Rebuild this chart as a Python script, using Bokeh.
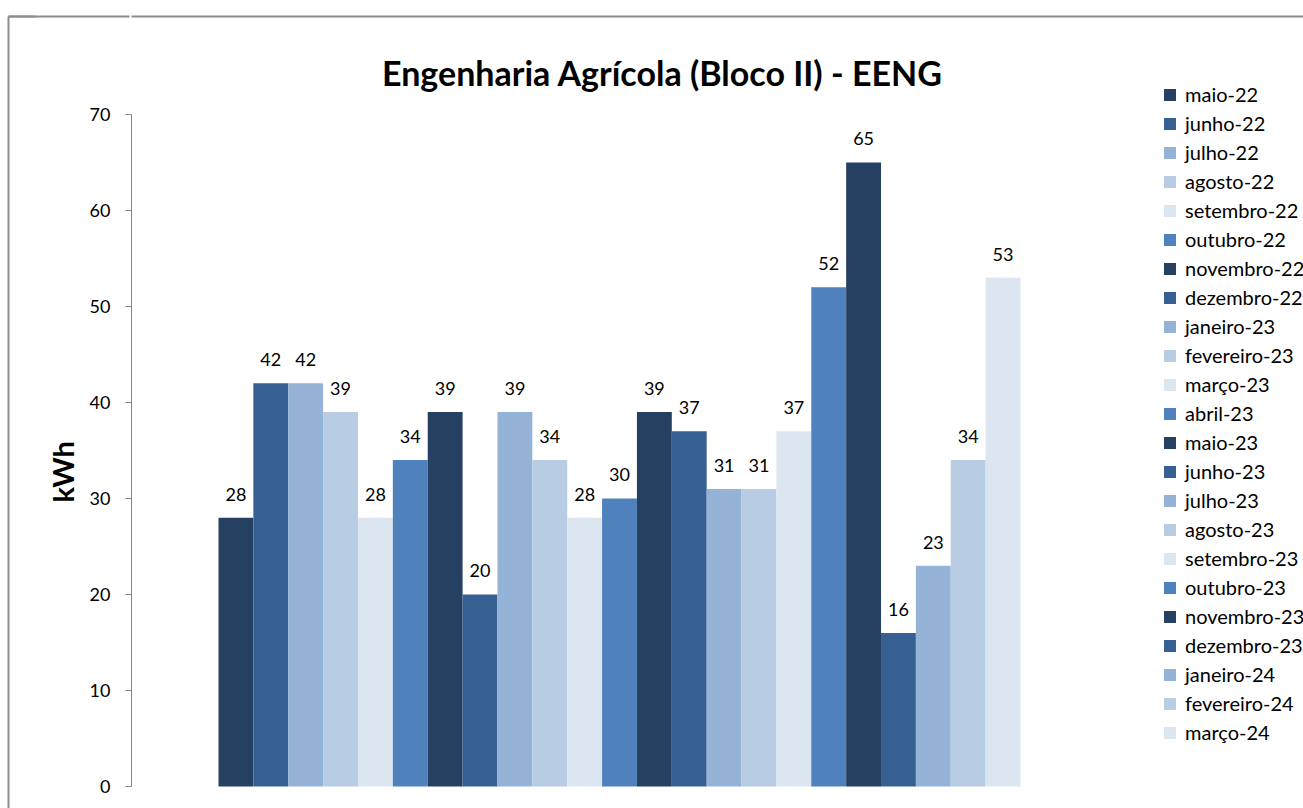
from bokeh.plotting import figure
from bokeh.models import (ColumnDataSource, Range1d, LabelSet, Label, FixedTicker,
                          Title, LinearAxis)
from bokeh.core.properties import value
from bokeh.embed import file_html
from bokeh.resources import INLINE

# ---- data ----
months = ["maio-22", "junho-22", "julho-22", "agosto-22", "setembro-22", "outubro-22",
          "novembro-22", "dezembro-22", "janeiro-23", "fevereiro-23", "março-23", "abril-23",
          "maio-23", "junho-23", "julho-23", "agosto-23", "setembro-23", "outubro-23",
          "novembro-23", "dezembro-23", "janeiro-24", "fevereiro-24", "março-24"]
kwh = [28, 42, 42, 39, 28, 34, 39, 20, 39, 34, 28, 30,
       39, 37, 31, 31, 37, 52, 65, 16, 23, 34, 53]
palette = ["#254061", "#366092", "#95B3D7", "#B8CCE4", "#DCE6F1", "#4F81BD"]
y_ticks = [0, 10, 20, 30, 40, 50, 60, 70]
title_text = "Engenharia Agrícola (Bloco II) - EENG"
y_label = "kWh"

FONT = "Lato"
BORDER = "#8c8c8c"

colors = [palette[i % len(palette)] for i in range(len(months))]
xs = list(range(len(months)))
src = ColumnDataSource(dict(x=xs, kwh=kwh, month=months, color=colors,
                            lbl=[str(v) for v in kwh]))

X0, X1 = -2.995, 30.616
Y0, Y1 = -2.2917, 80.2083
p = figure(width=1303, height=808,
           x_range=Range1d(X0, X1), y_range=Range1d(Y0, Y1),
           output_backend="svg", toolbar_location=None, x_axis_location=None,
           min_border_left=131, min_border_right=0, min_border_top=16, min_border_bottom=0)
p.outline_line_color = None
p.xgrid.visible = False
p.ygrid.visible = False
p.background_fill_color = "white"
p.border_fill_color = "white"

r = p.vbar(x="x", top="kwh", width=1.0, fill_color="color", line_color=None,
           source=src, legend_field="month")

labels = LabelSet(x="x", y="kwh", text="lbl", source=src, y_offset=17,
                  text_align="center", text_baseline="alphabetic",
                  text_font=value(FONT), text_font_size=value("18px"),
                  text_color=value("#000000"))
p.add_layout(labels)

title = Label(x=531, y=736, x_units="screen", y_units="screen", text=title_text,
              text_align="center", text_baseline="alphabetic",
              text_font=FONT, text_font_size="34px", text_font_style="bold",
              text_color="#000000")
p.add_layout(title)

ax = p.yaxis[0]
ax.ticker = FixedTicker(ticks=y_ticks)
ax.bounds = (0, 70)
ax.axis_line_color = "#868686"
ax.major_tick_line_color = "#868686"
ax.major_tick_out = 6
ax.major_tick_in = 0
ax.minor_tick_line_color = None
ax.major_label_standoff = 15
ax.major_label_text_font = FONT
ax.major_label_text_font_size = "18px"
ax.major_label_text_color = "#000000"

# y-axis title, positioned along the left side
ytitle = Title(text=y_label, align="left", offset=306, standoff=14,
               text_font=FONT, text_font_size="29px", text_font_style="bold",
               text_color="#000000")
p.add_layout(ytitle, "left")


def line_axis(bounds, ticks=(), tick_out=0, tick_in=0, line_color=BORDER):
    return LinearAxis(bounds=bounds, ticker=FixedTicker(ticks=list(ticks)),
                      major_label_text_color=None,
                      major_tick_out=tick_out, major_tick_in=tick_in,
                      major_tick_line_color=BORDER, major_tick_line_width=2,
                      minor_tick_line_color=None,
                      axis_line_color=line_color, axis_line_width=2)


# spacer between the y title and the chart-area border; its one tick lies on the top edge
p.add_layout(line_axis((Y0, Y1), ticks=[Y1], tick_out=27, line_color=None), "left")
# chart-area border: left edge, with its inward tick drawing the top-left segment
p.add_layout(line_axis((Y0, Y1), ticks=[Y1], tick_in=121), "left")
# chart-area border: top edge over the plot area
p.add_layout(line_axis((X0, X1)), "above")

leg = p.legend[0]
leg.location = (1031, 64)
leg.padding = 0
leg.margin = 0
leg.border_line_color = None
leg.background_fill_alpha = 0
leg.glyph_width = 15
leg.glyph_height = 15
leg.label_height = 20
leg.spacing = 5
leg.label_standoff = 8
leg.label_text_font = FONT
leg.label_text_font_size = "20px"
leg.label_text_color = "#000000"

open("out.html", "w").write(file_html(p, INLINE))
